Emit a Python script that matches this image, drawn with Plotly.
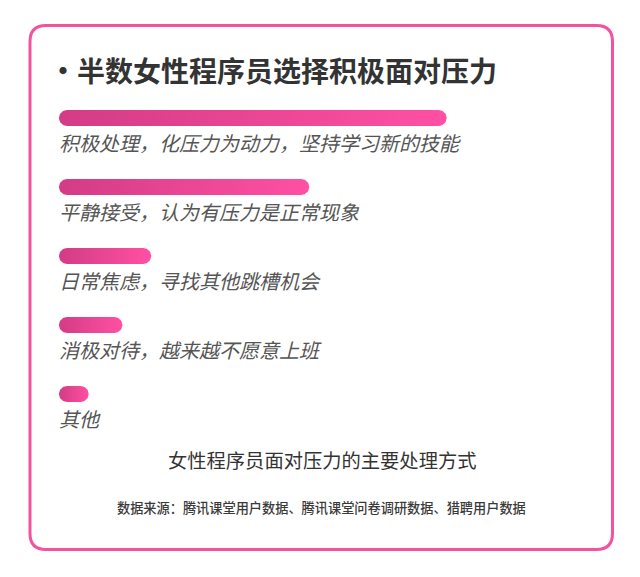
import numpy as np
import plotly.graph_objects as go

# 数据
categories = [
    "积极处理，化压力为动力，坚持学习新的技能",
    "平静接受，认为有压力是正常现象",
    "日常焦虑，寻找其他跳槽机会",
    "消极对待，越来越不愿意上班",
    "其他",
]
shares = [47.1, 30.4, 11.2, 7.7, 3.6]  # 估计值，%

title_text = "•半数女性程序员选择积极面对压力"
subtitle_text = "女性程序员面对压力的主要处理方式"
source_text = "数据来源：腾讯课堂用户数据、腾讯课堂问卷调研数据、猎聘用户数据"

# 页面有 8px 的 body margin，图本身缩小 8px
OFF = 8
W, H = 640 - OFF, 577 - OFF
FONT = "Noto Sans CJK SC"

# 坐标换算（页面像素）
x_left = 59
px_per_unit = 8.23
x_max = 60
row_px = 69
first_row_px = 118
bar_px = 16

x_dom = [(x_left - OFF) / W, (x_left - OFF + x_max * px_per_unit) / W]
y_top = -(first_row_px - OFF) / row_px
y_bottom = y_top + H / row_px

rx = (bar_px / 2) / px_per_unit
ry = (bar_px / 2) / row_px

fig = go.Figure()

# 圆头渐变条
for i, (cat, v) in enumerate(zip(categories, shares)):
    t_r = np.linspace(-np.pi / 2, np.pi / 2, 30)
    t_l = np.linspace(np.pi / 2, 3 * np.pi / 2, 30)
    xs = np.concatenate([v - rx + rx * np.cos(t_r), rx + rx * np.cos(t_l)])
    ys = np.concatenate([i + ry * np.sin(t_r), i + ry * np.sin(t_l)])
    fig.add_trace(go.Scatter(
        x=xs, y=ys, mode="lines", fill="toself",
        line=dict(width=0, color="#ff50a2"),
        fillgradient=dict(type="horizontal",
                          colorscale=[[0, "#d33c84"], [1, "#ff50a3"]]),
        hoverinfo="skip", showlegend=False,
    ))
    fig.add_annotation(
        x=0, y=i, xref="x", yref="y", yshift=-24, xshift=-2,
        text=cat, showarrow=False, xanchor="left", yanchor="middle",
        font=dict(family=FONT, size=20, color="#555555", style="italic"),
    )


def px(x, y):
    return (x - OFF) / W, 1 - (y - OFF) / H


# 卡片边框
x0, y0, x1, y1, r = 30, 25.5, 612.5, 549.5, 16
pts = [px(x0 + r, y0), px(x1 - r, y0), px(x1, y0), px(x1, y0 + r),
       px(x1, y1 - r), px(x1, y1), px(x1 - r, y1), px(x0 + r, y1),
       px(x0, y1), px(x0, y1 - r), px(x0, y0 + r), px(x0, y0)]
f = lambda p: f"{p[0]:.5f},{p[1]:.5f}"
path = (f"M{f(pts[0])} L{f(pts[1])} Q{f(pts[2])} {f(pts[3])} L{f(pts[4])} "
        f"Q{f(pts[5])} {f(pts[6])} L{f(pts[7])} Q{f(pts[8])} {f(pts[9])} "
        f"L{f(pts[10])} Q{f(pts[11])} {f(pts[0])} Z")
fig.add_shape(type="path", path=path, xref="paper", yref="paper",
              line=dict(color="#f4529f", width=3), layer="below")

tx, ty = px(47, 70)
fig.add_annotation(
    x=tx, y=ty, xref="paper", yref="paper",
    text=title_text, showarrow=False, xanchor="left", yanchor="middle",
    font=dict(family=FONT, size=28, color="#333333", weight="bold"),
)
sx, sy = px(322, 460)
fig.add_annotation(
    x=sx, y=sy, xref="paper", yref="paper",
    text=subtitle_text, showarrow=False, xanchor="center", yanchor="middle",
    font=dict(family=FONT, size=19.3, color="#333333"),
)
cx, cy = px(321, 507)
fig.add_annotation(
    x=cx, y=cy, xref="paper", yref="paper",
    text=source_text, showarrow=False, xanchor="center", yanchor="middle",
    font=dict(family=FONT, size=13.2, color="#3a3a3a", weight=500),
)

fig.update_xaxes(range=[0, x_max], domain=x_dom, visible=False, fixedrange=True)
fig.update_yaxes(range=[y_bottom, y_top], domain=[0, 1], visible=False, fixedrange=True)
fig.update_layout(
    width=W, height=H,
    margin=dict(l=0, r=0, t=0, b=0),
    paper_bgcolor="white", plot_bgcolor="white",
    showlegend=False,
)

fig.write_html("out.html")
